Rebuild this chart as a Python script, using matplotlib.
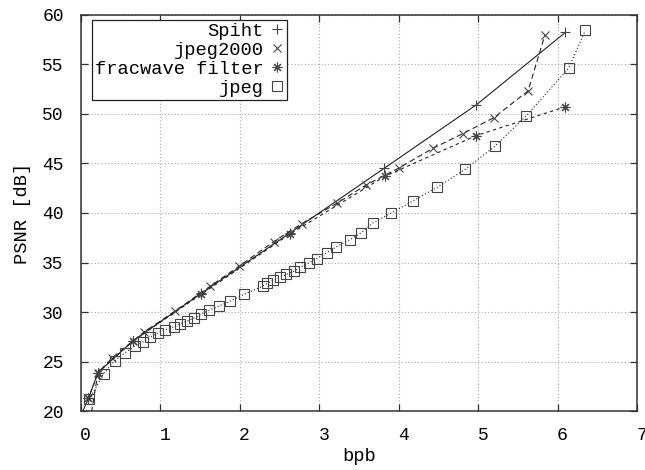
import matplotlib
matplotlib.use("Agg")
import matplotlib.pyplot as plt
from matplotlib.lines import Line2D
import matplotlib.transforms as mtransforms

plt.rcParams['font.family'] = ['Liberation Mono', 'DejaVu Sans Mono']

# ---- data ----
spiht_x = [0.00, 0.10, 0.22, 0.66, 1.52, 2.64, 3.82, 4.98, 6.10]
spiht_y = [19.5, 21.3, 23.9, 27.1, 31.9, 38.0, 44.5, 50.9, 58.2]

jp2k_x = [0.12, 0.22, 0.40, 0.80, 1.19, 1.63, 1.99, 2.43, 2.78, 3.23, 3.59,
          4.00, 4.43, 4.81, 5.20, 5.63, 5.84]
jp2k_y = [19.0, 23.9, 25.4, 28.0, 30.1, 32.6, 34.6, 37.1, 38.9, 41.0, 42.8,
          44.5, 46.5, 48.0, 49.6, 52.3, 57.9]

frac_x = [0.10, 0.22, 0.66, 1.52, 2.64, 3.83, 4.98, 6.10]
frac_y = [21.3, 23.9, 27.1, 31.8, 37.9, 43.7, 47.8, 50.7]

jpeg_x = [0.11, 0.29, 0.43, 0.56, 0.69, 0.79, 0.88, 0.97, 1.06, 1.17, 1.25,
          1.34, 1.43, 1.52, 1.62, 1.74, 1.88, 2.06, 2.29, 2.35, 2.42, 2.51,
          2.59, 2.68, 2.76, 2.88, 2.97, 3.10, 3.22, 3.39, 3.53, 3.68, 3.91,
          4.18, 4.49, 4.84, 5.21, 5.61, 6.14, 6.35]
jpeg_y = [21.2, 23.8, 25.1, 25.9, 26.6, 27.0, 27.5, 27.9, 28.2, 28.5, 28.8,
          29.1, 29.4, 29.8, 30.2, 30.6, 31.1, 31.8, 32.6, 32.9, 33.2, 33.5,
          33.8, 34.1, 34.5, 35.0, 35.4, 36.0, 36.6, 37.3, 38.0, 39.0, 40.0,
          41.2, 42.6, 44.4, 46.7, 49.8, 54.6, 58.4]

labels = ["Spiht", "jpeg2000", "fracwave filter", "jpeg"]
x_ticks = [0, 1, 2, 3, 4, 5, 6, 7]
y_ticks = [20, 25, 30, 35, 40, 45, 50, 55, 60]

# ---- figure ----
fig = plt.figure(figsize=(6.45, 4.70), dpi=100)
ax = fig.add_axes([80.5 / 645, 1 - 411.3 / 470, (637 - 80.5) / 645, (411.3 - 14.5) / 470])

lc = '#222222'
mc = '#444444'
lw = 0.8
ax.plot(spiht_x, spiht_y, color=lc, lw=lw, ls='-', marker='+', ms=7,
        mew=0.8, mec=mc, label=labels[0])
ax.plot(jp2k_x, jp2k_y, color=lc, lw=lw, ls=(0, (5, 3)), marker='x', ms=6,
        mew=0.8, mec=mc, label=labels[1])
ax.plot(frac_x, frac_y, color=lc, lw=lw, ls=(0, (3, 3)), marker=(8, 2, 0), ms=7,
        mew=0.8, mec=mc, label=labels[2])
ax.plot(jpeg_x, jpeg_y, color=lc, lw=lw, ls=(0, (1, 2)), marker='s', ms=7,
        mew=0.8, mec=mc, mfc='none', label=labels[3])

ax.set_xlim(0, 7)
ax.set_ylim(20, 60)
ax.set_xticks(x_ticks)
ax.set_yticks(y_ticks)
ax.grid(True, color='#aaaaaa', ls=(0, (1, 2)), lw=0.8)
for s in ax.spines.values():
    s.set_linewidth(1.1)
    s.set_color('#333333')
ax.tick_params(direction='in', length=5, width=0.9, top=True, right=True,
               labelsize=13, pad=12, colors='#333333', labelcolor='black')
ax.tick_params(axis='x', pad=11)
# small horizontal shift of x tick labels like the reference
offset = mtransforms.ScaledTranslation(5 / 100, 0, fig.dpi_scale_trans)
for lab in ax.get_xticklabels():
    lab.set_transform(lab.get_transform() + offset)

ax.set_xlabel("bpb", fontsize=13.5, labelpad=3)
ax.set_ylabel("PSNR [dB]", fontsize=13.5, labelpad=8)

handles = [
    Line2D([], [], ls='none', marker='+', ms=7, mew=0.8, mec=mc),
    Line2D([], [], ls='none', marker='x', ms=6, mew=0.8, mec=mc),
    Line2D([], [], ls='none', marker=(8, 2, 0), ms=7, mew=0.8, mec=mc),
    Line2D([], [], ls='none', marker='s', ms=7, mew=0.8, mec=mc, mfc='none'),
]
leg = ax.legend(handles, labels, loc='upper left',
                bbox_to_anchor=((92 - 80.5) / 556.5, (411.3 - 20) / 396.8),
                borderaxespad=0, markerfirst=False, fancybox=False,
                framealpha=1, edgecolor='#222222', fontsize=13.5,
                handlelength=0.8, handletextpad=0.3, labelspacing=0.1,
                borderpad=0.15)
leg.get_frame().set_linewidth(0.9)

fig.savefig("out.png", dpi=100)
